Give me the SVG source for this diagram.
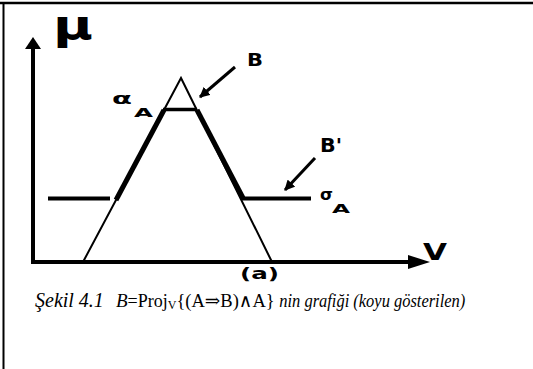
<svg xmlns="http://www.w3.org/2000/svg" width="533" height="369" viewBox="0 0 533 369">
<style>
.lbl{font-family:"DejaVu Sans","Liberation Sans",sans-serif;font-weight:bold;fill:#000}
.thin{stroke:#000;stroke-width:2;fill:none}
.thick{stroke:#000;stroke-width:5;fill:none}
.cap{font-family:"Liberation Serif","DejaVu Serif",serif;font-size:18px;fill:#000}
</style>
<defs>
<marker id="ah" viewBox="0 0 10 10" refX="9" refY="5" markerWidth="3.5" markerHeight="3.5" orient="auto" markerUnits="strokeWidth">
<path d="M0,0 L10,5 L0,10 z" fill="#000"/>
</marker>
</defs>
<rect width="533" height="369" fill="#fff"/>
<g id="frame">
<line x1="0" y1="3" x2="533" y2="3" stroke="#000" stroke-width="2.5"/>
<line x1="3.5" y1="2" x2="3.5" y2="369" stroke="#000" stroke-width="2"/>
</g>
<g id="axes">
<line x1="33" y1="262" x2="33" y2="46" stroke="#000" stroke-width="4"/>
<polygon points="33,37 25,49 41,49" fill="#000"/>
<line x1="31" y1="262" x2="412" y2="262" stroke="#000" stroke-width="4"/>
<polygon points="430,262 408,255 408,269" fill="#000"/>
</g>
<g id="triangle">
<polyline class="thin" points="83,262 181,78 272,262"/>
</g>
<g id="result">
<line class="thick" x1="116" y1="200" x2="164" y2="110"/>
<line class="thick" x1="197" y1="110" x2="243" y2="198"/>
<line x1="163" y1="109.5" x2="197" y2="109.5" stroke="#000" stroke-width="3.5"/>
<line x1="48" y1="198.5" x2="110" y2="198.5" stroke="#000" stroke-width="4"/>
<line x1="241" y1="198.5" x2="311" y2="198.5" stroke="#000" stroke-width="4"/>
</g>
<g id="connectors">
<line x1="235" y1="67" x2="200" y2="97" stroke="#000" stroke-width="3" marker-end="url(#ah)"/>
<line x1="315" y1="158" x2="285" y2="190" stroke="#000" stroke-width="3" marker-end="url(#ah)"/>
</g>
<g id="labels">
<text x="53" y="39" font-family="DejaVu Sans" font-weight="bold" font-size="40" textLength="40" lengthAdjust="spacingAndGlyphs">μ</text>
<text class="lbl" x="247" y="66" font-size="17" textLength="16" lengthAdjust="spacingAndGlyphs">B</text>
<text class="lbl" x="320" y="152" font-size="19" textLength="22" lengthAdjust="spacingAndGlyphs">B'</text>
<text class="lbl" x="112" y="104" font-size="15" textLength="20" lengthAdjust="spacingAndGlyphs">α</text>
<text class="lbl" x="134" y="117" font-size="12" textLength="19" lengthAdjust="spacingAndGlyphs">A</text>
<text class="lbl" x="320" y="200" font-size="16" textLength="13" lengthAdjust="spacingAndGlyphs">σ</text>
<text class="lbl" x="332" y="213" font-size="12" textLength="18" lengthAdjust="spacingAndGlyphs">A</text>
<text class="lbl" x="423" y="260" font-size="23" textLength="24" lengthAdjust="spacingAndGlyphs">V</text>
<text class="lbl" x="240" y="279" font-size="15" textLength="39" lengthAdjust="spacingAndGlyphs">(a)</text>
</g>
<g id="caption">
<text class="cap" y="307"><tspan x="35" font-style="italic" font-size="20">Şekil 4.1</tspan><tspan x="116" font-style="italic" font-size="19">B</tspan><tspan font-size="18">=Proj</tspan><tspan font-size="12" dy="2">V</tspan><tspan dy="-2" font-size="18.5">{(A⇒B)∧A} </tspan><tspan font-style="italic" font-size="18.5" textLength="186" lengthAdjust="spacingAndGlyphs">nin grafiği (koyu gösterilen)</tspan></text>
</g>
</svg>
